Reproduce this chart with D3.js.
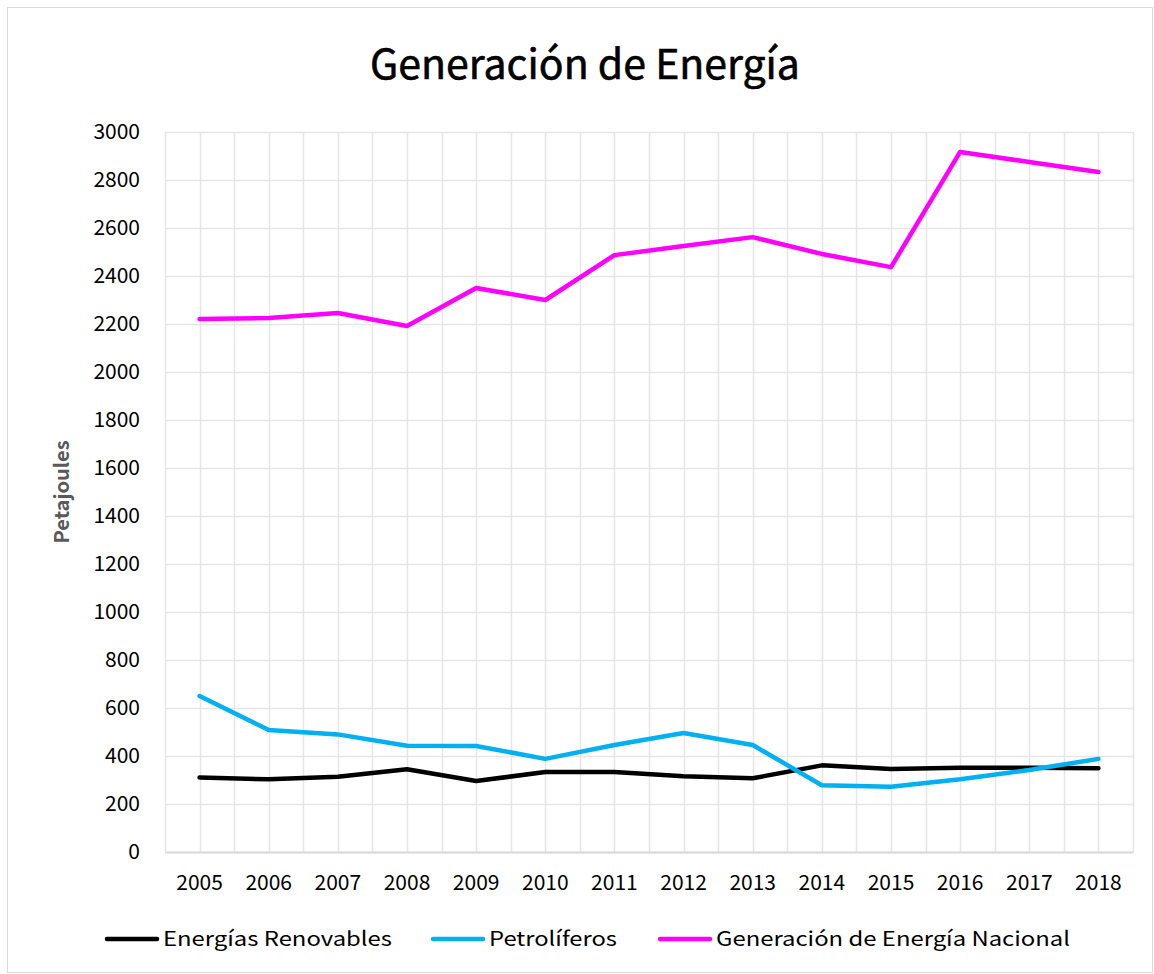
<!DOCTYPE html>
<html>
<head>
<meta charset="utf-8">
<script src="https://cdn.jsdelivr.net/npm/d3@7"></script>
<style>
  body { margin: 0; background: #fff; }
  svg text { font-family: "Noto Sans CJK JP", "Noto Sans", sans-serif; }
</style>
</head>
<body>
<div id="chart"></div>
<script>
var years = [2005, 2006, 2007, 2008, 2009, 2010, 2011, 2012, 2013, 2014, 2015, 2016, 2017, 2018];
var renovables = [310, 303, 314, 345, 296, 333, 333, 316, 307, 361, 346, 351, 351, 349];
var petroliferos = [650, 508, 490, 443, 442, 388, 446, 496, 446, 278, 272, 303, 342, 388];
var nacional = [2221, 2225, 2246, 2192, 2350, 2300, 2487, 2525, 2562, 2492, 2437, 2917, 2875, 2833];
var yTicks = [0, 200, 400, 600, 800, 1000, 1200, 1400, 1600, 1800, 2000, 2200, 2400, 2600, 2800, 3000];

var series = [
  {name: 'Energías Renovables', values: renovables, color: '#000000'},
  {name: 'Petrolíferos', values: petroliferos, color: '#00b0f0'},
  {name: 'Generación de Energía Nacional', values: nacional, color: '#ff00ff'}
];

var width = 1154, height = 974;
var margin = {t: 132, r: 21, b: 122, l: 165};
var chartW = width - margin.l - margin.r;
var chartH = height - margin.t - margin.b;

var svg = d3.select('#chart').append('svg')
  .attr('width', width)
  .attr('height', height);

// outer frame
svg.append('rect')
  .attr('x', 7.5).attr('y', 7.5)
  .attr('width', width - 9).attr('height', height - 9)
  .attr('fill', '#fff').attr('stroke', '#d9d9d9');

svg.append('text')
  .attr('x', 585).attr('y', 79)
  .attr('text-anchor', 'middle')
  .attr('font-size', 41)
  .attr('font-weight', 'normal')
  .attr('fill', '#000')
  .attr('stroke', '#000').attr('stroke-width', 0.6)
  .text('Generación de Energía');

var x = d3.scaleBand().domain(years).range([0, chartW]);
var y = d3.scaleLinear().domain([0, 3000]).range([chartH, 0]);

var g = svg.append('g')
  .attr('transform', 'translate(' + [margin.l, margin.t] + ')');

// vertical gridlines: category edges and centres
var vLines = [];
years.forEach(function(d) { vLines.push(x(d)); vLines.push(x(d) + x.bandwidth() / 2); });
vLines.push(chartW);
g.selectAll('line.vgrid')
  .data(vLines)
  .enter().append('line')
  .attr('class', 'vgrid')
  .attr('x1', function(d) { return Math.round(d) + 0.5; })
  .attr('x2', function(d) { return Math.round(d) + 0.5; })
  .attr('y1', 0).attr('y2', chartH)
  .attr('stroke', '#e6e6e6').attr('stroke-width', 1.5);

// horizontal gridlines + y labels
var yAxis = d3.axisLeft(y).tickValues(yTicks).tickFormat(d3.format('d'))
  .tickSize(-chartW).tickPadding(25);
var yG = g.append('g').call(yAxis);
yG.select('.domain').remove();
yG.selectAll('.tick line').attr('stroke', '#e6e6e6').attr('stroke-width', 1.5);
yG.selectAll('.tick text').attr('font-size', 21).attr('fill', '#000')
  .style('font-family', '"Noto Sans CJK JP", sans-serif');

// x axis
var xAxis = d3.axisBottom(x).tickSize(0).tickPadding(23);
var xG = g.append('g').attr('transform', 'translate(0,' + chartH + ')').call(xAxis);
xG.select('.domain').attr('stroke', '#d9d9d9').attr('stroke-width', 2);
xG.selectAll('.tick text').attr('font-size', 21).attr('fill', '#000')
  .style('font-family', '"Noto Sans CJK JP", sans-serif');

svg.append('text')
  .attr('transform', 'translate(69,492) rotate(-90)')
  .attr('text-anchor', 'middle')
  .attr('font-size', 20)
  .attr('font-weight', 'bold')
  .attr('fill', '#595959')
  .text('Petajoules');

var line = d3.line()
  .x(function(d, i) { return x(years[i]) + x.bandwidth() / 2; })
  .y(function(d) { return y(d); });

g.selectAll('path.series')
  .data(series)
  .enter().append('path')
  .attr('class', 'series')
  .attr('d', function(d) { return line(d.values); })
  .attr('fill', 'none')
  .attr('stroke', function(d) { return d.color; })
  .attr('stroke-width', 4.5)
  .attr('stroke-linejoin', 'round')
  .attr('stroke-linecap', 'round');

// legend
var legendX = [107, 433, 660];
var leg = svg.selectAll('g.legend')
  .data(series)
  .enter().append('g')
  .attr('class', 'legend')
  .attr('transform', function(d, i) { return 'translate(' + legendX[i] + ',939)'; });
leg.append('line')
  .attr('x1', 0).attr('x2', 50)
  .attr('stroke', function(d) { return d.color; })
  .attr('stroke-width', 4.5)
  .attr('stroke-linecap', 'round');
leg.append('text')
  .attr('x', 56).attr('y', 7)
  .attr('font-size', 20)
  .attr('fill', '#000')
  .attr('textLength', function(d, i) { return [229, 128, 354][i]; })
  .attr('lengthAdjust', 'spacingAndGlyphs')
  .text(function(d) { return d.name; });
</script>
</body>
</html>
